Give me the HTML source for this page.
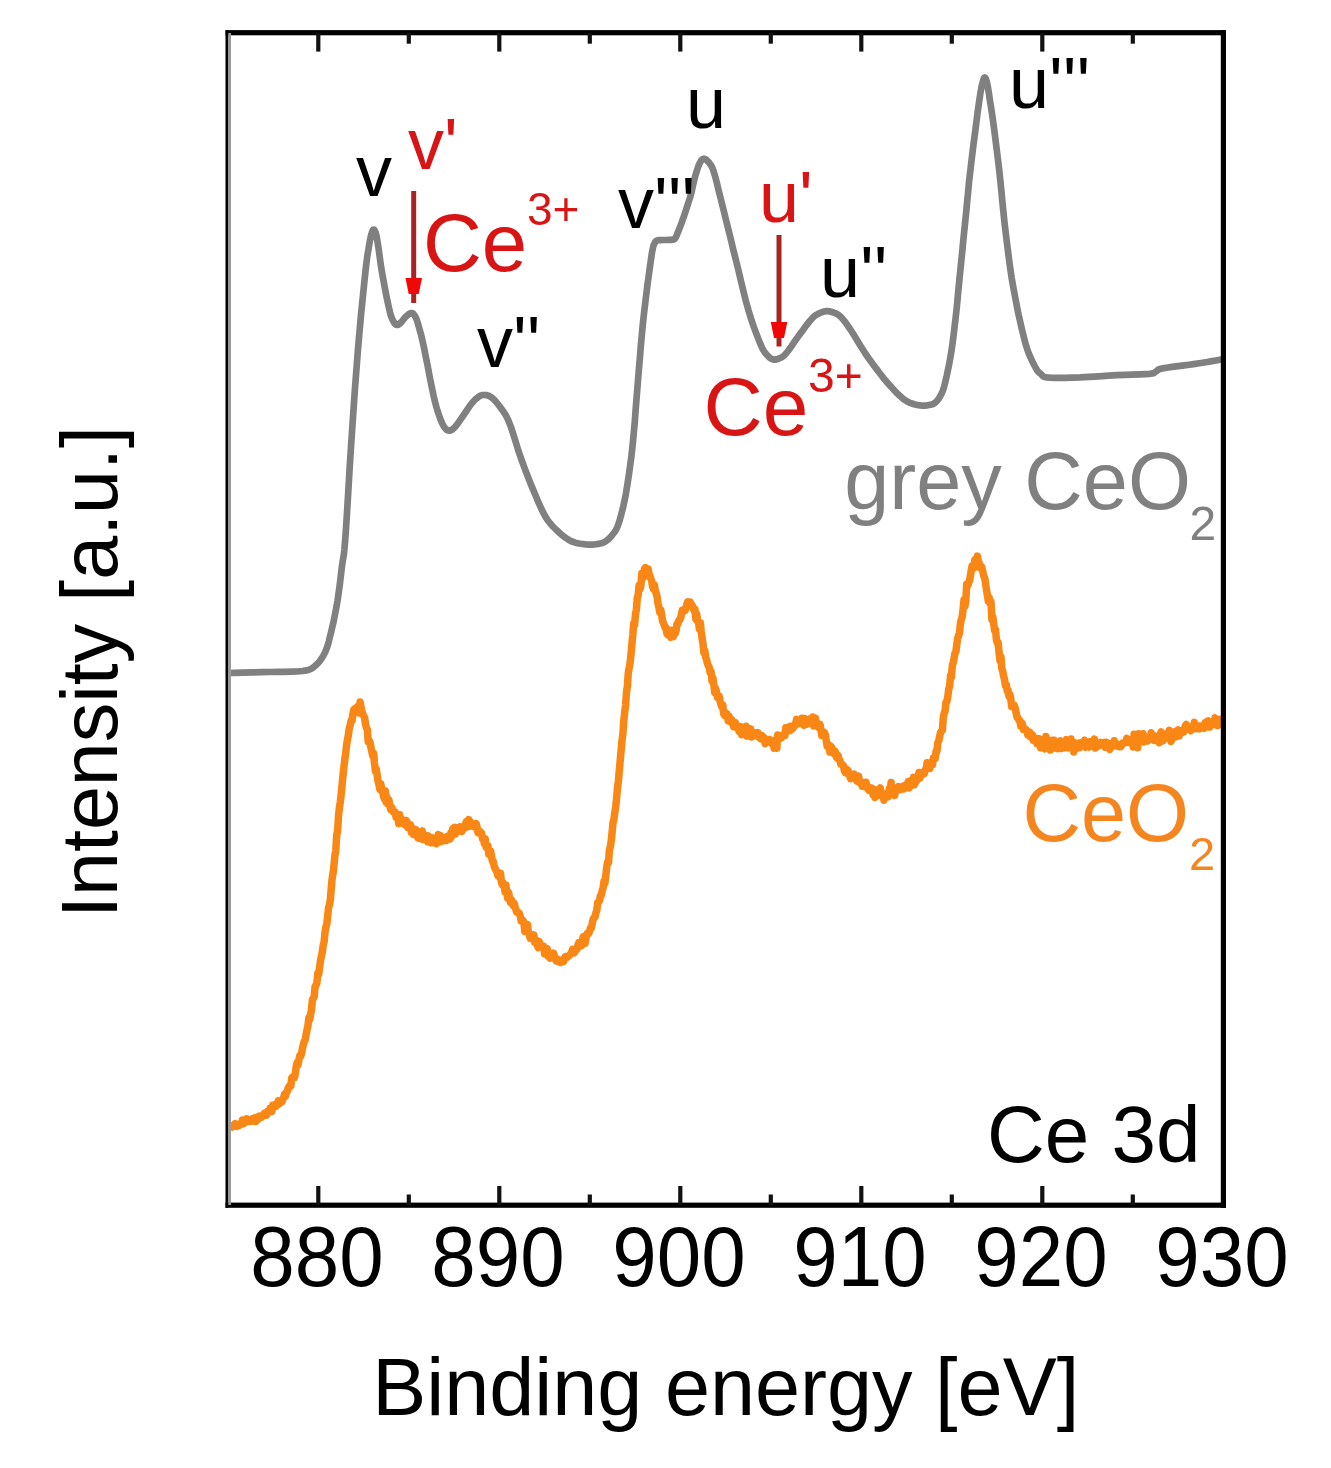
<!DOCTYPE html>
<html lang="en">
<head>
<meta charset="utf-8">
<title>Ce 3d XPS spectra</title>
<style>
html,body{margin:0;padding:0;background:#fff;}
body{width:1331px;height:1468px;overflow:hidden;}
svg{display:block;font-family:"Liberation Sans",Arial,Helvetica,sans-serif;}
.big{font-size:80px;}
.lab{font-size:72px;}
.sm{font-size:45px;}
</style>
</head>
<body>
<svg width="1331" height="1468" viewBox="0 0 1331 1468">
<rect x="0" y="0" width="1331" height="1468" fill="#ffffff"/>
<!-- curves -->
<path d="M228.8,673.0 L234.5,672.9 L242.7,672.7 L252.2,672.4 L261.6,672.2 L270.0,672.0 L277.4,671.9 L284.6,671.8 L291.4,671.7 L297.4,671.5 L302.5,671.0 L306.3,670.4 L309.1,669.7 L311.1,668.8 L313.0,667.6 L315.0,666.0 L317.2,663.9 L319.4,661.5 L321.4,658.8 L323.3,655.8 L325.0,652.5 L326.4,649.1 L327.7,645.5 L328.8,641.6 L329.8,637.3 L331.0,632.5 L332.3,627.0 L333.7,620.9 L335.0,614.4 L336.3,607.7 L337.5,601.0 L338.5,594.1 L339.5,586.8 L340.4,579.5 L341.2,572.5 L342.0,566.0 L342.7,561.3 L343.2,558.2 L343.8,554.8 L344.4,549.3 L345.2,540.0 L346.2,525.8 L347.3,507.9 L348.5,487.8 L349.7,467.0 L351.0,447.0 L352.3,427.4 L353.7,407.1 L355.1,386.8 L356.6,367.2 L358.0,349.0 L359.5,331.7 L361.0,314.9 L362.6,299.2 L364.0,285.3 L365.2,273.6 L366.2,264.8 L367.0,258.4 L367.7,253.6 L368.4,249.8 L369.0,246.0 L369.6,242.5 L370.1,239.7 L370.6,237.5 L371.0,235.7 L371.5,234.0 L371.9,232.5 L372.4,231.2 L372.8,230.3 L373.2,229.7 L373.6,229.5 L374.1,229.7 L374.5,230.2 L375.0,231.1 L375.5,232.3 L376.0,234.0 L376.5,236.0 L376.9,238.4 L377.4,241.1 L377.9,244.3 L378.5,248.0 L379.1,252.2 L379.7,256.9 L380.4,262.0 L381.2,267.6 L382.2,273.6 L383.5,280.7 L385.0,288.7 L386.6,297.0 L388.2,304.5 L389.5,310.4 L390.5,314.4 L391.4,317.1 L392.1,318.8 L392.8,320.2 L393.5,321.5 L394.2,322.8 L394.9,323.7 L395.6,324.4 L396.3,324.8 L397.0,325.0 L397.8,324.9 L398.5,324.6 L399.3,324.0 L400.1,323.3 L401.0,322.5 L401.9,321.5 L402.9,320.2 L403.9,318.9 L404.9,317.6 L406.0,316.5 L407.1,315.5 L408.3,314.5 L409.4,313.7 L410.5,313.1 L411.6,313.0 L412.6,313.3 L413.5,314.0 L414.3,315.0 L415.2,316.4 L416.0,318.0 L416.8,320.0 L417.6,322.5 L418.4,325.2 L419.2,328.1 L420.0,331.0 L420.7,333.5 L421.3,335.7 L421.9,338.2 L422.7,341.8 L423.9,347.2 L425.5,355.3 L427.6,365.7 L429.7,377.0 L431.9,387.6 L433.7,396.2 L435.2,402.5 L436.5,407.4 L437.7,411.4 L438.9,414.8 L440.0,418.0 L441.1,420.9 L442.1,423.2 L443.1,425.1 L444.0,426.7 L445.0,428.0 L445.9,429.1 L446.8,429.9 L447.7,430.4 L448.6,430.6 L449.6,430.6 L450.6,430.4 L451.6,430.0 L452.6,429.3 L453.7,428.3 L455.0,427.0 L456.4,425.3 L458.0,423.2 L459.6,420.9 L461.3,418.4 L463.0,416.0 L464.8,413.4 L466.6,410.6 L468.5,407.8 L470.3,405.2 L472.0,403.0 L473.6,401.2 L475.0,399.7 L476.4,398.4 L477.8,397.4 L479.0,396.5 L480.1,395.8 L481.1,395.4 L482.0,395.1 L483.0,395.0 L484.0,395.0 L485.1,395.0 L486.3,395.1 L487.5,395.4 L488.7,395.8 L490.0,396.5 L491.3,397.3 L492.5,398.2 L493.8,399.4 L495.3,400.9 L497.0,403.0 L499.0,405.5 L501.2,408.4 L503.6,411.7 L506.1,415.8 L508.5,420.7 L510.9,426.9 L513.3,434.3 L515.8,442.2 L518.2,450.1 L520.7,457.5 L523.2,464.3 L525.6,470.8 L528.1,477.2 L530.5,483.4 L533.0,489.4 L535.5,495.3 L537.9,501.1 L540.4,506.7 L542.8,511.9 L545.3,516.4 L547.7,520.2 L550.1,523.3 L552.5,526.1 L554.9,528.5 L557.5,531.0 L560.2,533.5 L563.0,535.9 L565.9,538.0 L568.9,539.9 L572.0,541.5 L575.3,542.7 L578.9,543.5 L582.5,544.0 L585.9,544.4 L589.0,544.6 L591.7,544.7 L594.1,544.5 L596.2,544.2 L598.2,543.9 L600.0,543.5 L601.5,543.2 L602.8,542.8 L603.9,542.4 L605.0,541.8 L606.2,541.0 L607.5,539.9 L608.9,538.7 L610.3,537.2 L611.7,535.7 L613.0,534.0 L614.2,532.5 L615.2,531.1 L616.2,529.4 L617.3,527.1 L618.5,523.8 L619.9,519.4 L621.3,514.3 L622.8,508.4 L624.3,501.8 L625.8,494.3 L627.2,485.9 L628.6,476.7 L630.0,466.7 L631.4,456.2 L632.6,445.3 L633.7,433.8 L634.8,421.7 L635.7,409.1 L636.7,396.5 L637.7,384.0 L638.7,371.5 L639.8,358.9 L640.8,346.3 L641.9,334.1 L643.0,322.6 L644.2,311.6 L645.5,300.9 L646.7,290.8 L647.9,281.6 L649.0,273.6 L649.9,267.0 L650.7,261.5 L651.3,257.0 L651.9,253.2 L652.5,250.0 L653.0,247.5 L653.4,246.0 L653.7,245.0 L654.1,244.3 L654.5,243.5 L654.9,242.6 L655.2,241.9 L655.7,241.4 L656.2,240.9 L657.0,240.5 L658.1,240.2 L659.5,240.1 L661.0,240.1 L662.5,240.0 L664.0,240.0 L665.4,240.0 L666.9,240.0 L668.4,239.9 L669.8,239.9 L671.0,239.8 L672.0,239.7 L672.9,239.6 L673.6,239.5 L674.3,239.1 L675.0,238.5 L675.7,237.5 L676.4,236.1 L677.0,234.6 L677.6,233.0 L678.2,231.5 L678.8,230.2 L679.2,229.1 L679.7,227.8 L680.3,226.4 L681.0,224.5 L681.9,222.1 L682.8,219.3 L683.9,216.3 L685.0,213.1 L686.0,210.0 L687.0,206.9 L688.0,203.8 L689.1,200.5 L690.1,197.3 L691.0,194.0 L691.9,190.6 L692.6,187.1 L693.4,183.6 L694.2,180.2 L695.0,177.0 L695.9,173.9 L696.8,170.9 L697.7,168.1 L698.6,165.6 L699.5,163.5 L700.4,161.9 L701.2,160.6 L702.0,159.7 L702.9,159.0 L703.8,158.8 L704.7,158.8 L705.6,159.2 L706.6,159.9 L707.5,160.9 L708.5,162.0 L709.5,163.2 L710.4,164.4 L711.4,165.9 L712.4,168.0 L713.5,171.0 L714.7,174.9 L716.0,179.6 L717.3,184.8 L718.7,190.7 L720.3,197.0 L722.1,204.2 L724.1,212.3 L726.2,220.8 L728.2,228.9 L730.0,236.0 L731.4,241.6 L732.4,246.0 L733.4,250.1 L734.6,254.9 L736.2,261.3 L738.3,269.8 L740.7,279.9 L743.3,290.7 L745.9,301.1 L748.5,310.4 L751.0,318.6 L753.6,326.3 L756.2,333.4 L758.6,339.6 L760.7,344.7 L762.4,348.5 L763.9,351.0 L765.1,352.8 L766.3,354.2 L767.5,355.5 L768.7,356.8 L769.8,357.8 L770.8,358.5 L771.9,359.0 L773.0,359.4 L774.2,359.6 L775.3,359.6 L776.5,359.4 L777.7,359.0 L779.0,358.5 L780.2,358.0 L781.4,357.5 L782.6,356.7 L784.1,355.5 L786.0,353.5 L788.4,350.5 L791.2,346.6 L794.2,342.2 L797.2,337.9 L800.0,334.0 L802.7,330.4 L805.3,326.8 L807.9,323.4 L810.3,320.4 L812.5,318.0 L814.3,316.2 L815.9,315.1 L817.3,314.2 L818.6,313.6 L820.0,313.0 L821.4,312.4 L822.7,311.9 L824.0,311.5 L825.3,311.3 L826.6,311.2 L827.9,311.2 L829.3,311.3 L830.7,311.6 L832.1,312.0 L833.5,312.5 L835.0,313.1 L836.4,313.7 L837.9,314.6 L839.5,315.7 L841.3,317.4 L843.2,319.6 L845.3,322.2 L847.4,325.2 L849.7,328.5 L852.0,332.0 L854.5,335.9 L857.1,340.2 L859.8,344.7 L862.5,349.0 L865.0,353.0 L867.4,356.5 L869.7,359.8 L871.9,362.8 L874.2,365.9 L876.5,368.9 L878.8,372.0 L881.2,375.0 L883.5,378.1 L886.0,381.0 L888.5,384.0 L891.3,387.1 L894.2,390.2 L897.2,393.3 L900.0,396.0 L902.6,398.3 L904.8,400.0 L906.7,401.2 L908.4,402.1 L910.1,402.8 L912.0,403.5 L914.1,404.2 L916.2,404.7 L918.4,405.1 L920.5,405.4 L922.3,405.6 L923.9,405.7 L925.3,405.6 L926.6,405.5 L927.8,405.2 L929.0,405.0 L930.2,404.8 L931.3,404.6 L932.4,404.3 L933.4,403.9 L934.5,403.2 L935.6,402.2 L936.8,401.1 L937.9,399.7 L939.0,398.2 L940.0,396.5 L940.9,394.9 L941.7,393.5 L942.5,391.7 L943.3,389.4 L944.3,386.0 L945.4,381.4 L946.7,376.0 L948.0,369.8 L949.3,363.3 L950.5,356.6 L951.6,349.9 L952.6,343.0 L953.5,335.8 L954.4,328.1 L955.4,319.8 L956.4,310.8 L957.4,301.0 L958.3,290.9 L959.3,280.7 L960.3,270.7 L961.3,260.9 L962.3,251.1 L963.2,241.3 L964.2,231.5 L965.2,221.7 L966.2,211.9 L967.1,202.1 L968.1,192.2 L969.0,182.4 L970.1,172.6 L971.3,162.4 L972.6,151.7 L973.9,141.3 L975.2,131.7 L976.2,123.6 L977.0,117.3 L977.6,112.3 L978.2,108.3 L978.7,104.7 L979.2,101.0 L979.8,97.2 L980.3,93.7 L980.9,90.5 L981.4,87.6 L982.0,85.0 L982.6,82.7 L983.1,80.7 L983.7,79.0 L984.2,77.9 L984.8,77.5 L985.4,77.9 L985.9,79.1 L986.5,80.8 L987.0,82.8 L987.5,85.0 L987.9,87.2 L988.3,89.6 L988.7,92.3 L989.2,95.4 L989.7,99.0 L990.3,102.9 L991.0,106.9 L991.7,111.5 L992.5,116.9 L993.4,123.6 L994.5,131.8 L995.7,141.4 L997.0,151.8 L998.3,162.4 L999.5,172.6 L1000.5,182.4 L1001.5,192.2 L1002.4,202.1 L1003.4,211.9 L1004.4,221.7 L1005.6,231.9 L1006.9,242.3 L1008.2,252.7 L1009.4,262.3 L1010.6,270.7 L1011.6,277.6 L1012.6,283.4 L1013.5,288.5 L1014.4,293.2 L1015.3,298.0 L1016.2,302.6 L1017.0,306.9 L1017.8,311.0 L1018.7,315.3 L1019.8,320.0 L1021.0,325.4 L1022.4,331.3 L1023.9,337.4 L1025.4,343.2 L1027.0,348.5 L1028.7,353.3 L1030.7,357.8 L1032.6,361.9 L1034.4,365.5 L1036.0,368.4 L1037.2,370.5 L1038.2,371.8 L1039.1,372.6 L1040.0,373.2 L1041.0,374.0 L1041.8,374.9 L1042.4,375.7 L1043.1,376.4 L1044.5,377.0 L1046.9,377.4 L1050.4,377.7 L1054.6,377.9 L1059.6,377.9 L1065.4,377.9 L1072.0,377.7 L1080.0,377.4 L1089.2,376.8 L1099.1,376.3 L1108.7,375.7 L1117.2,375.2 L1124.9,374.9 L1132.4,374.6 L1139.2,374.4 L1145.1,374.1 L1149.7,373.8 L1152.6,373.4 L1154.1,373.0 L1154.7,372.5 L1155.2,372.0 L1156.0,371.5 L1156.9,370.9 L1157.5,370.3 L1158.3,369.7 L1159.7,369.1 L1162.3,368.4 L1166.5,367.7 L1172.0,366.9 L1178.1,366.1 L1184.1,365.4 L1189.3,364.7 L1193.5,364.1 L1197.4,363.5 L1200.9,363.0 L1204.2,362.5 L1207.4,362.0 L1210.7,361.4 L1214.1,360.8 L1217.3,360.2 L1219.9,359.7 L1221.8,359.3" fill="none" stroke="#808080" stroke-width="6.7" stroke-linejoin="round" stroke-linecap="butt"/>
<path d="M231.4,1126.0 L232.3,1126.9 L233.2,1125.4 L234.1,1125.0 L235.0,1123.7 L235.9,1124.5 L236.8,1126.3 L237.7,1124.9 L238.6,1125.6 L239.5,1124.0 L240.4,1124.0 L241.3,1123.4 L242.2,1120.2 L243.1,1123.9 L244.0,1123.1 L244.9,1122.9 L245.8,1119.2 L246.7,1118.8 L247.6,1119.9 L248.5,1120.3 L249.4,1121.3 L250.3,1120.5 L251.2,1121.1 L252.1,1119.0 L253.0,1120.2 L253.9,1120.0 L254.8,1118.0 L255.7,1121.5 L256.6,1119.3 L257.5,1120.0 L258.4,1116.7 L259.3,1116.1 L260.2,1116.3 L261.1,1116.3 L262.0,1117.0 L262.9,1115.9 L263.8,1114.3 L264.7,1113.0 L265.6,1113.2 L266.5,1115.4 L267.4,1111.5 L268.3,1112.6 L269.2,1112.2 L270.1,1108.4 L271.0,1110.2 L271.9,1111.5 L272.8,1105.2 L273.7,1107.2 L274.6,1106.7 L275.5,1104.6 L276.4,1105.9 L277.3,1104.1 L278.2,1100.9 L279.1,1103.8 L280.0,1102.7 L280.9,1102.3 L281.8,1102.2 L282.7,1099.4 L283.6,1098.0 L284.5,1094.4 L285.4,1096.3 L286.3,1092.8 L287.2,1091.4 L288.1,1088.2 L289.0,1086.7 L289.9,1085.3 L290.8,1086.2 L291.7,1078.2 L292.6,1077.0 L293.5,1077.7 L294.4,1077.6 L295.3,1073.7 L296.2,1066.7 L297.1,1062.8 L298.0,1065.0 L298.9,1059.9 L299.8,1055.9 L300.7,1056.3 L301.6,1053.2 L302.5,1047.9 L303.4,1044.6 L304.3,1041.3 L305.2,1039.8 L306.1,1034.2 L307.0,1030.1 L307.9,1026.2 L308.8,1018.1 L309.7,1019.5 L310.6,1014.6 L311.5,1009.4 L312.4,1000.0 L313.3,998.2 L314.2,996.6 L315.1,986.6 L316.0,985.2 L316.9,982.9 L317.8,973.2 L318.7,974.4 L319.6,967.2 L320.5,960.6 L321.4,956.4 L322.3,951.8 L323.2,945.3 L324.1,942.0 L325.0,932.3 L325.9,927.0 L326.8,924.2 L327.7,915.8 L328.6,907.3 L329.5,904.8 L330.4,899.2 L331.3,887.7 L332.2,878.1 L333.1,873.3 L334.0,864.9 L334.9,855.6 L335.8,850.3 L336.7,834.9 L337.6,831.2 L338.5,815.8 L339.4,807.7 L340.3,802.0 L341.2,794.3 L342.1,784.9 L343.0,775.4 L343.9,767.0 L344.8,759.4 L345.7,753.3 L346.6,744.6 L347.5,739.6 L348.4,734.8 L349.3,728.0 L350.2,725.4 L351.1,720.7 L352.0,721.1 L352.9,713.8 L353.8,709.8 L354.7,708.7 L355.6,708.8 L356.5,710.8 L357.4,706.8 L358.3,708.6 L359.2,713.0 L360.1,702.0 L361.0,706.9 L361.9,711.6 L362.8,713.7 L363.7,715.9 L364.6,717.6 L365.5,724.4 L366.4,727.5 L367.3,729.5 L368.2,741.7 L369.1,740.4 L370.0,742.1 L370.9,747.4 L371.8,751.2 L372.7,755.9 L373.6,753.1 L374.5,763.1 L375.4,771.0 L376.3,769.0 L377.2,775.4 L378.1,781.4 L379.0,784.5 L379.9,789.3 L380.8,783.8 L381.7,789.6 L382.6,791.7 L383.5,796.1 L384.4,799.0 L385.3,791.1 L386.2,802.2 L387.1,797.2 L388.0,804.1 L388.9,799.9 L389.8,805.5 L390.7,809.3 L391.6,807.2 L392.5,809.3 L393.4,812.0 L394.3,811.6 L395.2,812.1 L396.1,817.3 L397.0,817.2 L397.9,814.9 L398.8,823.5 L399.7,814.8 L400.6,821.0 L401.5,819.0 L402.4,820.9 L403.3,823.3 L404.2,823.0 L405.1,824.9 L406.0,820.5 L406.9,821.4 L407.8,827.5 L408.7,824.4 L409.6,825.1 L410.5,824.8 L411.4,832.3 L412.3,831.7 L413.2,834.3 L414.1,829.0 L415.0,832.0 L415.9,829.8 L416.8,835.0 L417.7,837.6 L418.6,832.0 L419.5,838.4 L420.4,837.5 L421.3,835.0 L422.2,831.0 L423.1,839.6 L424.0,836.3 L424.9,835.5 L425.8,838.3 L426.7,838.7 L427.6,841.7 L428.5,835.9 L429.4,841.5 L430.3,842.6 L431.2,842.8 L432.1,839.1 L433.0,837.9 L433.9,842.4 L434.8,840.4 L435.7,840.5 L436.6,843.7 L437.5,839.6 L438.4,834.6 L439.3,839.1 L440.2,835.3 L441.1,841.6 L442.0,840.0 L442.9,837.4 L443.8,838.6 L444.7,840.2 L445.6,838.0 L446.5,840.5 L447.4,836.6 L448.3,838.8 L449.2,839.3 L450.1,839.0 L451.0,832.8 L451.9,836.0 L452.8,828.7 L453.7,830.0 L454.6,827.3 L455.5,834.0 L456.4,827.7 L457.3,830.1 L458.2,829.0 L459.1,828.8 L460.0,826.8 L460.9,828.2 L461.8,831.5 L462.7,826.7 L463.6,827.4 L464.5,828.1 L465.4,824.7 L466.3,821.6 L467.2,823.0 L468.1,826.6 L469.0,819.6 L469.9,822.1 L470.8,826.0 L471.7,825.5 L472.6,823.8 L473.5,826.4 L474.4,825.7 L475.3,823.5 L476.2,823.7 L477.1,827.4 L478.0,832.7 L478.9,830.6 L479.8,831.4 L480.7,833.4 L481.6,833.3 L482.5,838.5 L483.4,837.8 L484.3,843.4 L485.2,838.7 L486.1,847.2 L487.0,846.8 L487.9,845.7 L488.8,854.1 L489.7,853.7 L490.6,851.0 L491.5,856.3 L492.4,861.1 L493.3,861.5 L494.2,866.5 L495.1,868.4 L496.0,870.2 L496.9,871.4 L497.8,875.6 L498.7,875.9 L499.6,877.3 L500.5,873.2 L501.4,882.0 L502.3,884.8 L503.2,882.9 L504.1,884.4 L505.0,891.7 L505.9,885.0 L506.8,892.0 L507.7,898.3 L508.6,892.4 L509.5,897.8 L510.4,902.4 L511.3,899.5 L512.2,902.8 L513.1,905.4 L514.0,903.0 L514.9,906.5 L515.8,909.1 L516.7,912.1 L517.6,911.9 L518.5,913.3 L519.4,913.2 L520.3,916.4 L521.2,920.9 L522.1,920.8 L523.0,920.4 L523.9,922.1 L524.8,931.5 L525.7,929.7 L526.6,930.1 L527.5,924.5 L528.4,933.0 L529.3,934.1 L530.2,938.1 L531.1,936.6 L532.0,936.7 L532.9,939.1 L533.8,934.8 L534.7,942.3 L535.6,941.7 L536.5,940.4 L537.4,945.7 L538.3,947.6 L539.2,941.5 L540.1,943.9 L541.0,946.8 L541.9,947.3 L542.8,946.8 L543.7,946.4 L544.6,953.8 L545.5,952.3 L546.4,948.3 L547.3,948.8 L548.2,956.2 L549.1,955.5 L550.0,958.1 L550.9,956.9 L551.8,954.2 L552.7,957.4 L553.6,953.1 L554.5,956.9 L555.4,959.1 L556.3,960.9 L557.2,958.9 L558.1,960.6 L559.0,962.1 L559.9,962.1 L560.8,962.5 L561.7,961.4 L562.6,959.8 L563.5,961.5 L564.4,959.3 L565.3,956.7 L566.2,956.5 L567.1,957.2 L568.0,956.2 L568.9,955.9 L569.8,954.7 L570.7,954.2 L571.6,952.6 L572.5,949.4 L573.4,952.1 L574.3,952.7 L575.2,950.6 L576.1,948.6 L577.0,949.2 L577.9,945.4 L578.8,942.6 L579.7,945.9 L580.6,942.9 L581.5,945.7 L582.4,940.9 L583.3,936.7 L584.2,939.1 L585.1,943.5 L586.0,937.8 L586.9,933.8 L587.8,933.0 L588.7,933.5 L589.6,931.0 L590.5,927.7 L591.4,927.8 L592.3,923.3 L593.2,918.9 L594.1,917.6 L595.0,917.2 L595.9,912.9 L596.8,910.2 L597.7,902.6 L598.6,901.8 L599.5,900.8 L600.4,895.4 L601.3,895.3 L602.2,890.8 L603.1,887.9 L604.0,881.3 L604.9,883.4 L605.8,875.7 L606.7,867.1 L607.6,862.4 L608.5,862.7 L609.4,849.9 L610.3,846.9 L611.2,841.1 L612.1,832.4 L613.0,822.9 L613.9,819.4 L614.8,812.6 L615.7,807.0 L616.6,798.2 L617.5,787.7 L618.4,780.9 L619.3,770.8 L620.2,760.5 L621.1,750.7 L622.0,740.6 L622.9,734.0 L623.8,720.3 L624.7,712.4 L625.6,705.1 L626.5,692.1 L627.4,686.0 L628.3,672.8 L629.2,667.9 L630.1,662.9 L631.0,654.3 L631.9,644.0 L632.8,635.1 L633.7,623.6 L634.6,625.3 L635.5,614.2 L636.4,609.4 L637.3,597.9 L638.2,594.9 L639.1,585.5 L640.0,589.1 L640.9,585.5 L641.8,573.6 L642.7,576.8 L643.6,577.2 L644.5,568.7 L645.4,567.7 L646.3,569.5 L647.2,570.8 L648.1,568.8 L649.0,573.9 L649.9,575.7 L650.8,578.5 L651.7,581.0 L652.6,586.6 L653.5,588.9 L654.4,585.0 L655.3,591.1 L656.2,593.1 L657.1,596.8 L658.0,603.5 L658.9,607.4 L659.8,612.4 L660.7,609.8 L661.6,614.2 L662.5,620.8 L663.4,623.0 L664.3,625.2 L665.2,628.1 L666.1,628.0 L667.0,634.0 L667.9,634.8 L668.8,635.2 L669.7,634.9 L670.6,637.3 L671.5,630.2 L672.4,634.9 L673.3,636.7 L674.2,630.7 L675.1,633.7 L676.0,631.4 L676.9,624.3 L677.8,624.2 L678.7,620.6 L679.6,620.1 L680.5,618.4 L681.4,614.6 L682.3,610.4 L683.2,610.9 L684.1,609.6 L685.0,610.7 L685.9,608.3 L686.8,604.4 L687.7,601.8 L688.6,604.4 L689.5,603.2 L690.4,602.3 L691.3,605.7 L692.2,605.3 L693.1,608.0 L694.0,610.5 L694.9,609.1 L695.8,618.8 L696.7,613.9 L697.6,621.3 L698.5,622.1 L699.4,628.9 L700.3,622.7 L701.2,631.5 L702.1,638.5 L703.0,643.6 L703.9,652.6 L704.8,650.7 L705.7,657.4 L706.6,659.6 L707.5,663.7 L708.4,665.9 L709.3,667.4 L710.2,672.7 L711.1,671.5 L712.0,681.0 L712.9,677.9 L713.8,684.4 L714.7,692.4 L715.6,688.5 L716.5,691.6 L717.4,697.2 L718.3,696.3 L719.2,696.3 L720.1,701.5 L721.0,704.6 L721.9,707.0 L722.8,705.0 L723.7,713.8 L724.6,715.4 L725.5,712.6 L726.4,714.8 L727.3,714.4 L728.2,720.8 L729.1,716.3 L730.0,721.2 L730.9,719.2 L731.8,719.6 L732.7,724.3 L733.6,726.7 L734.5,723.8 L735.4,722.7 L736.3,727.4 L737.2,725.7 L738.1,727.2 L739.0,731.1 L739.9,730.6 L740.8,726.6 L741.7,734.7 L742.6,729.0 L743.5,731.6 L744.4,728.2 L745.3,730.3 L746.2,726.2 L747.1,736.1 L748.0,735.5 L748.9,729.0 L749.8,728.7 L750.7,728.9 L751.6,736.9 L752.5,733.0 L753.4,734.5 L754.3,734.2 L755.2,735.1 L756.1,732.9 L757.0,736.2 L757.9,732.6 L758.8,736.6 L759.7,737.9 L760.6,738.7 L761.5,737.2 L762.4,735.8 L763.3,739.0 L764.2,737.8 L765.1,743.8 L766.0,742.1 L766.9,740.3 L767.8,739.8 L768.7,739.7 L769.6,739.5 L770.5,741.4 L771.4,743.3 L772.3,744.1 L773.2,744.2 L774.1,748.1 L775.0,740.2 L775.9,741.6 L776.8,748.3 L777.7,735.1 L778.6,737.8 L779.5,738.8 L780.4,737.9 L781.3,737.9 L782.2,735.4 L783.1,736.2 L784.0,734.6 L784.9,735.7 L785.8,727.8 L786.7,729.7 L787.6,731.2 L788.5,727.6 L789.4,726.8 L790.3,730.5 L791.2,726.2 L792.1,728.8 L793.0,728.2 L793.9,726.2 L794.8,726.0 L795.7,723.6 L796.6,719.4 L797.5,722.6 L798.4,723.5 L799.3,720.4 L800.2,721.1 L801.1,723.1 L802.0,718.3 L802.9,722.2 L803.8,725.3 L804.7,718.5 L805.6,720.3 L806.5,719.4 L807.4,724.1 L808.3,720.9 L809.2,722.7 L810.1,718.7 L811.0,721.0 L811.9,721.4 L812.8,717.0 L813.7,726.0 L814.6,724.9 L815.5,718.2 L816.4,725.7 L817.3,724.3 L818.2,726.9 L819.1,728.0 L820.0,724.3 L820.9,729.3 L821.8,735.5 L822.7,731.6 L823.6,732.0 L824.5,732.8 L825.4,734.9 L826.3,740.7 L827.2,746.0 L828.1,744.2 L829.0,745.3 L829.9,752.1 L830.8,746.3 L831.7,747.4 L832.6,751.9 L833.5,753.4 L834.4,750.7 L835.3,751.6 L836.2,756.9 L837.1,758.1 L838.0,755.4 L838.9,759.6 L839.8,760.0 L840.7,763.9 L841.6,763.7 L842.5,765.0 L843.4,765.5 L844.3,770.4 L845.2,772.4 L846.1,768.9 L847.0,773.2 L847.9,770.0 L848.8,773.1 L849.7,775.8 L850.6,778.7 L851.5,774.7 L852.4,776.3 L853.3,777.8 L854.2,774.1 L855.1,778.8 L856.0,777.7 L856.9,781.1 L857.8,777.9 L858.7,776.3 L859.6,782.2 L860.5,783.3 L861.4,781.9 L862.3,786.2 L863.2,783.8 L864.1,783.5 L865.0,786.8 L865.9,782.2 L866.8,785.0 L867.7,787.3 L868.6,790.1 L869.5,788.0 L870.4,789.8 L871.3,787.8 L872.2,790.8 L873.1,794.7 L874.0,789.2 L874.9,797.4 L875.8,790.1 L876.7,792.2 L877.6,792.9 L878.5,795.4 L879.4,789.9 L880.3,787.9 L881.2,795.0 L882.1,795.6 L883.0,795.2 L883.9,800.2 L884.8,793.9 L885.7,793.9 L886.6,795.3 L887.5,793.6 L888.4,796.6 L889.3,788.8 L890.2,790.7 L891.1,782.5 L892.0,793.0 L892.9,789.6 L893.8,792.6 L894.7,795.4 L895.6,789.6 L896.5,788.7 L897.4,787.7 L898.3,786.5 L899.2,786.8 L900.1,789.7 L901.0,787.8 L901.9,787.5 L902.8,786.6 L903.7,789.0 L904.6,787.5 L905.5,785.5 L906.4,787.2 L907.3,784.7 L908.2,781.7 L909.1,788.0 L910.0,785.0 L910.9,780.8 L911.8,785.5 L912.7,783.0 L913.6,777.4 L914.5,784.8 L915.4,780.8 L916.3,781.4 L917.2,778.8 L918.1,777.0 L919.0,772.5 L919.9,778.2 L920.8,775.0 L921.7,773.4 L922.6,774.2 L923.5,772.7 L924.4,773.3 L925.3,769.6 L926.2,769.3 L927.1,762.7 L928.0,766.0 L928.9,767.8 L929.8,768.4 L930.7,762.7 L931.6,762.0 L932.5,764.9 L933.4,758.0 L934.3,758.6 L935.2,758.5 L936.1,751.2 L937.0,751.0 L937.9,742.2 L938.8,740.8 L939.7,736.1 L940.6,732.5 L941.5,731.0 L942.4,730.2 L943.3,717.4 L944.2,713.0 L945.1,711.2 L946.0,702.0 L946.9,701.4 L947.8,696.6 L948.7,689.3 L949.6,686.6 L950.5,675.8 L951.4,677.2 L952.3,665.6 L953.2,662.8 L954.1,658.0 L955.0,653.3 L955.9,651.8 L956.8,644.4 L957.7,637.9 L958.6,635.4 L959.5,633.2 L960.4,623.4 L961.3,619.4 L962.2,616.9 L963.1,609.2 L964.0,599.8 L964.9,606.4 L965.8,601.1 L966.7,584.3 L967.6,585.9 L968.5,583.2 L969.4,581.0 L970.3,576.6 L971.2,570.8 L972.1,566.0 L973.0,567.3 L973.9,568.1 L974.8,559.9 L975.7,558.9 L976.6,561.5 L977.5,556.1 L978.4,562.3 L979.3,563.3 L980.2,567.8 L981.1,566.1 L982.0,567.8 L982.9,572.0 L983.8,576.2 L984.7,577.9 L985.6,583.7 L986.5,589.8 L987.4,595.1 L988.3,600.8 L989.2,597.7 L990.1,603.3 L991.0,601.8 L991.9,619.5 L992.8,616.7 L993.7,623.7 L994.6,630.3 L995.5,629.7 L996.4,639.7 L997.3,643.0 L998.2,642.5 L999.1,653.3 L1000.0,660.5 L1000.9,656.4 L1001.8,668.4 L1002.7,671.0 L1003.6,675.8 L1004.5,679.5 L1005.4,685.5 L1006.3,684.6 L1007.2,690.8 L1008.1,690.2 L1009.0,696.2 L1009.9,694.6 L1010.8,699.1 L1011.7,706.6 L1012.6,705.4 L1013.5,706.0 L1014.4,705.5 L1015.3,708.6 L1016.2,713.4 L1017.1,717.4 L1018.0,717.9 L1018.9,720.1 L1019.8,720.3 L1020.7,725.8 L1021.6,722.7 L1022.5,723.9 L1023.4,729.3 L1024.3,728.6 L1025.2,729.1 L1026.1,729.6 L1027.0,731.6 L1027.9,735.0 L1028.8,735.3 L1029.7,732.0 L1030.6,737.1 L1031.5,737.2 L1032.4,734.7 L1033.3,740.1 L1034.2,737.8 L1035.1,738.2 L1036.0,741.7 L1036.9,743.6 L1037.8,738.6 L1038.7,742.0 L1039.6,738.9 L1040.5,747.7 L1041.4,740.6 L1042.3,745.4 L1043.2,740.7 L1044.1,744.9 L1045.0,748.9 L1045.9,736.5 L1046.8,742.3 L1047.7,745.0 L1048.6,743.6 L1049.5,742.3 L1050.4,750.0 L1051.3,744.6 L1052.2,740.2 L1053.1,747.0 L1054.0,740.2 L1054.9,748.0 L1055.8,743.5 L1056.7,745.5 L1057.6,748.6 L1058.5,745.6 L1059.4,741.7 L1060.3,740.9 L1061.2,748.6 L1062.1,747.5 L1063.0,743.4 L1063.9,747.9 L1064.8,746.9 L1065.7,747.3 L1066.6,739.6 L1067.5,744.8 L1068.4,748.0 L1069.3,747.5 L1070.2,747.8 L1071.1,738.9 L1072.0,745.8 L1072.9,746.6 L1073.8,752.0 L1074.7,742.7 L1075.6,744.2 L1076.5,745.1 L1077.4,747.3 L1078.3,743.7 L1079.2,747.9 L1080.1,742.7 L1081.0,745.4 L1081.9,743.2 L1082.8,745.0 L1083.7,742.7 L1084.6,740.2 L1085.5,747.4 L1086.4,745.2 L1087.3,742.9 L1088.2,744.9 L1089.1,747.0 L1090.0,741.8 L1090.9,744.2 L1091.8,745.9 L1092.7,746.0 L1093.6,743.7 L1094.5,739.1 L1095.4,748.1 L1096.3,745.7 L1097.2,745.0 L1098.1,744.3 L1099.0,745.8 L1099.9,744.1 L1100.8,742.5 L1101.7,743.4 L1102.6,743.8 L1103.5,743.9 L1104.4,742.5 L1105.3,747.3 L1106.2,742.2 L1107.1,747.4 L1108.0,743.0 L1108.9,746.7 L1109.8,749.4 L1110.7,746.2 L1111.6,743.7 L1112.5,745.7 L1113.4,745.9 L1114.3,740.8 L1115.2,743.7 L1116.1,745.6 L1117.0,743.8 L1117.9,745.1 L1118.8,746.7 L1119.7,746.6 L1120.6,746.8 L1121.5,745.7 L1122.4,743.2 L1123.3,743.7 L1124.2,742.8 L1125.1,742.5 L1126.0,742.6 L1126.9,738.3 L1127.8,741.8 L1128.7,742.4 L1129.6,739.7 L1130.5,742.0 L1131.4,743.2 L1132.3,741.2 L1133.2,747.0 L1134.1,734.3 L1135.0,740.5 L1135.9,736.0 L1136.8,743.3 L1137.7,747.7 L1138.6,733.8 L1139.5,740.6 L1140.4,741.5 L1141.3,739.2 L1142.2,741.4 L1143.1,733.8 L1144.0,741.9 L1144.9,740.5 L1145.8,739.5 L1146.7,737.7 L1147.6,740.9 L1148.5,737.8 L1149.4,739.6 L1150.3,737.5 L1151.2,732.7 L1152.1,738.5 L1153.0,739.0 L1153.9,740.3 L1154.8,735.9 L1155.7,738.0 L1156.6,739.6 L1157.5,738.1 L1158.4,740.9 L1159.3,742.7 L1160.2,734.8 L1161.1,731.9 L1162.0,739.2 L1162.9,740.8 L1163.8,738.9 L1164.7,738.4 L1165.6,734.4 L1166.5,733.9 L1167.4,738.0 L1168.3,733.0 L1169.2,730.3 L1170.1,732.3 L1171.0,741.4 L1171.9,739.6 L1172.8,732.4 L1173.7,732.0 L1174.6,734.4 L1175.5,731.5 L1176.4,736.8 L1177.3,732.8 L1178.2,729.9 L1179.1,736.0 L1180.0,730.7 L1180.9,732.6 L1181.8,731.7 L1182.7,730.7 L1183.6,732.1 L1184.5,729.1 L1185.4,725.8 L1186.3,724.5 L1187.2,726.8 L1188.1,727.9 L1189.0,729.6 L1189.9,729.6 L1190.8,730.7 L1191.7,729.2 L1192.6,726.5 L1193.5,726.4 L1194.4,722.3 L1195.3,727.3 L1196.2,728.8 L1197.1,728.6 L1198.0,726.6 L1198.9,726.1 L1199.8,728.8 L1200.7,726.1 L1201.6,727.7 L1202.5,727.0 L1203.4,725.7 L1204.3,728.3 L1205.2,722.9 L1206.1,723.1 L1207.0,721.4 L1207.9,721.0 L1208.8,726.9 L1209.7,727.0 L1210.6,721.9 L1211.5,723.2 L1212.4,724.6 L1213.3,723.6 L1214.2,724.6 L1215.1,717.9 L1216.0,719.7 L1216.9,722.7 L1217.8,725.5 L1218.7,721.9 L1219.6,719.4 L1220.5,720.9 L1221.4,720.2" fill="none" stroke="#f98716" stroke-width="7.5" stroke-linejoin="round" stroke-linecap="butt"/>
<!-- frame -->
<g stroke="#000" fill="none">
</g>
<g fill="#000" stroke="none">
<rect x="225.5" y="30.1" width="1000.5" height="5.2"/>
<rect x="225.5" y="1202.6" width="1000.5" height="5.2"/>
<rect x="1220.8" y="30.1" width="5.2" height="1177.7"/>
<rect x="225.5" y="30.1" width="2.9" height="1177.7"/>
<rect x="228.3" y="33" width="2.7" height="1172" fill="#999"/>
</g>
<g stroke="#111" fill="none">
<g stroke-width="4.2">
<line x1="318.3" y1="33" x2="318.3" y2="51.6" />
<line x1="318.3" y1="1205" x2="318.3" y2="1186" />
<line x1="499.3" y1="33" x2="499.3" y2="51.6" />
<line x1="499.3" y1="1205" x2="499.3" y2="1186" />
<line x1="680.3" y1="33" x2="680.3" y2="51.6" />
<line x1="680.3" y1="1205" x2="680.3" y2="1186" />
<line x1="861.3" y1="33" x2="861.3" y2="51.6" />
<line x1="861.3" y1="1205" x2="861.3" y2="1186" />
<line x1="1042.3" y1="33" x2="1042.3" y2="51.6" />
<line x1="1042.3" y1="1205" x2="1042.3" y2="1186" />
<line x1="408.8" y1="33" x2="408.8" y2="43.7" />
<line x1="408.8" y1="1205" x2="408.8" y2="1194.5" />
<line x1="589.8" y1="33" x2="589.8" y2="43.7" />
<line x1="589.8" y1="1205" x2="589.8" y2="1194.5" />
<line x1="770.8" y1="33" x2="770.8" y2="43.7" />
<line x1="770.8" y1="1205" x2="770.8" y2="1194.5" />
<line x1="951.8" y1="33" x2="951.8" y2="43.7" />
<line x1="951.8" y1="1205" x2="951.8" y2="1194.5" />
<line x1="1132.8" y1="33" x2="1132.8" y2="43.7" />
<line x1="1132.8" y1="1205" x2="1132.8" y2="1194.5" />
</g>
</g>
<!-- tick labels -->
<g class="big" fill="#000">
<text transform="translate(317.0,1286.3) scale(0.975,1.04)" text-anchor="middle" style="font-size:82px">880</text>
<text transform="translate(498.0,1286.3) scale(0.975,1.04)" text-anchor="middle" style="font-size:82px">890</text>
<text transform="translate(679.0,1286.3) scale(0.975,1.04)" text-anchor="middle" style="font-size:82px">900</text>
<text transform="translate(860.0,1286.3) scale(0.975,1.04)" text-anchor="middle" style="font-size:82px">910</text>
<text transform="translate(1041.0,1286.3) scale(0.975,1.04)" text-anchor="middle" style="font-size:82px">920</text>
<text transform="translate(1222.0,1286.3) scale(0.975,1.04)" text-anchor="middle" style="font-size:82px">930</text>
<text x="725.7" y="1415" text-anchor="middle" style="font-size:81px">Binding energy [eV]</text>
<text transform="translate(117,672) rotate(-90)" text-anchor="middle" style="font-size:79px">Intensity [a.u.]</text>
<text x="987" y="1161.5">Ce 3d</text>
</g>
<!-- series labels -->
<g class="big">
<text x="844.3" y="508.5" fill="#808080" style="font-size:81px">grey CeO</text>
<text x="1189.4" y="539.5" fill="#808080" style="font-size:48px">2</text>
<text x="1022.5" y="840.5" fill="#f5861f" style="font-size:81px">CeO</text>
<text x="1189" y="870" fill="#f5861f" style="font-size:47px">2</text>
<text x="423" y="270.5" fill="#d81414" style="font-size:81.5px">Ce</text>
<text x="527" y="225" fill="#d81414" style="font-size:46px">3+</text>
<text x="703.5" y="434.8" fill="#d81414" style="font-size:82px">Ce</text>
<text x="808" y="392" fill="#d81414" style="font-size:48px">3+</text>
</g>
<!-- peak labels -->
<g class="lab" fill="#000">
<text x="356" y="196">v</text>
<text x="477" y="367">v''</text>
<text x="618" y="228">v'''</text>
<text x="686" y="128">u</text>
<text x="820" y="296.5">u''</text>
<text x="1009" y="108">u'''</text>
</g>
<g class="lab" fill="#d81414">
<text x="408" y="169">v'</text>
<text x="759" y="222">u'</text>
</g>
<!-- arrows -->
<g>
<line x1="413.7" y1="191" x2="413.7" y2="303" stroke="#a82424" stroke-width="5"/>
<polygon points="405.5,278 422,278 418.7,294 408.7,294" fill="#f00808"/>
<line x1="779" y1="235" x2="779" y2="346.5" stroke="#a82424" stroke-width="5"/>
<polygon points="770.8,322 787.3,322 784,338 774,338" fill="#f00808"/>
</g>
</svg>
</body>
</html>
